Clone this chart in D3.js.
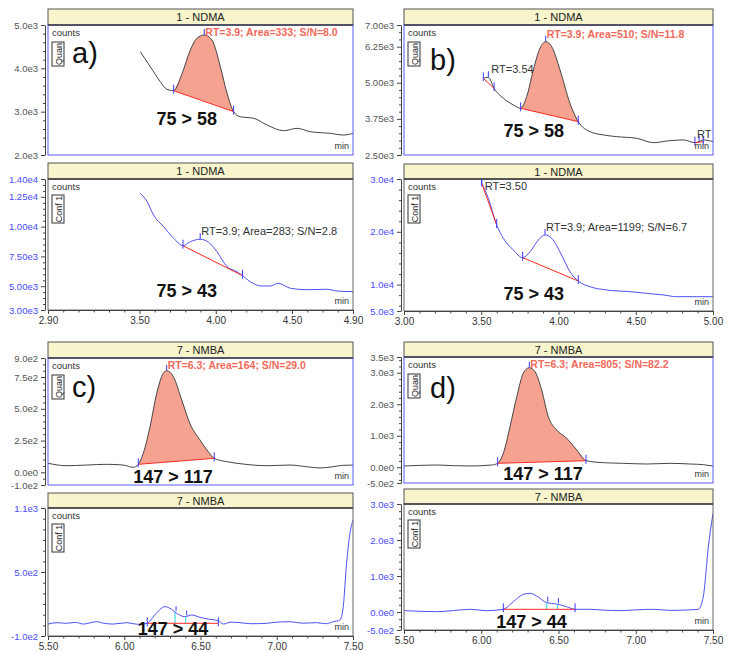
<!DOCTYPE html>
<html>
<head>
<meta charset="utf-8">
<script src="https://cdn.jsdelivr.net/npm/d3@7"></script>
<style>
  body { margin: 0; background: #fff; }
  svg text { font-family: "Liberation Sans", Arial, sans-serif; }
</style>
</head>
<body>
<svg id="chart" width="733" height="652"></svg>
<script>
// ---- a) NDMA, quan 75 > 58 ----
const timeAQ  = [3.505,3.571,3.636,3.68,3.724,3.78,3.833,3.876,3.925,3.975,4.03,4.074,4.117,4.16,4.25,4.336,4.445,4.533,4.62,4.75,4.838,4.90];
const countAQ = [4384,4038,3692,3516,3484,3885,4423,4692,4769,4654,4038,3423,3000,2884,2846,2692,2561,2615,2538,2500,2461,2500];
const peaksAQ = [{start:3.724, apex:3.925, end:4.117, base:[3484,3000], label:'RT=3.9; Area=333; S/N=8.0', fill:true}];
// ---- a) NDMA, conf 75 > 43 ----
const timeAC  = [3.505,3.55,3.592,3.658,3.724,3.785,3.833,3.898,3.953,4.008,4.074,4.139,4.176,4.226,4.30,4.357,4.41,4.49,4.597,4.73,4.795,4.90];
const countAC = [12800,12094,10977,9995,9021,8400,8735,8937,8685,7895,6636,6216,5880,5376,5015,5015,5240,4822,4706,4740,4595,4540];
const peaksAC = [{start:3.785, apex:3.898, end:4.176, base:[8400,5880], label:'RT=3.9; Area=283; S/N=2.8'}];
// ---- b) NDMA, quan 75 > 58 ----
const timeBQ  = [3.513,3.546,3.583,3.643,3.708,3.755,3.794,3.837,3.88,3.917,3.956,4.01,4.074,4.128,4.204,4.29,4.377,4.506,4.614,4.722,4.808,4.883,4.91,4.937,5.0];
const countBQ = [5155,5190,4809,4463,4232,4117,4519,5443,6194,6423,6249,5443,4291,3654,3308,3194,3135,3079,2927,2997,3021,2927,2960,3021,2962];
const peaksBQ = [
  {start:3.513, apex:3.546, end:3.583, base:[5155,4809], label:'RT=3.54', small:true},
  {start:3.755, apex:3.917, end:4.128, base:[4117,3654], label:'RT=3.9; Area=510; S/N=11.8', fill:true},
  {start:4.883, apex:4.91, end:4.937, base:[2927,2960], label:'RT', small:true, dx:-2}
];
// ---- b) NDMA, conf 75 > 43 ----
const timeBC  = [3.503,3.546,3.60,3.643,3.708,3.768,3.816,3.87,3.913,3.956,4.02,4.074,4.128,4.204,4.312,4.463,4.57,4.68,4.765,4.895,5.0];
const countBC = [29180,26345,21290,18770,16550,15100,16230,18450,19400,18770,15600,12440,10680,9600,8980,8660,8350,8030,7710,7710,7710];
const peaksBC = [
  {start:3.503, apex:3.503, end:3.60, base:[29180,21290], label:'RT=3.50', small:true},
  {start:3.768, apex:3.913, end:4.128, base:[15100,10680], label:'RT=3.9; Area=1199; S/N=6.7'}
];
// ---- c) NMBA, quan 147 > 117 ----
const timeCQ  = [5.5,5.62,5.754,5.885,5.994,6.06,6.092,6.125,6.169,6.213,6.256,6.278,6.322,6.377,6.43,6.497,6.551,6.59,6.672,6.78,6.934,7.087,7.196,7.284,7.37,7.436,7.5];
const countCQ = [71,52,57,63,57,39,63,150,359,622,780,800,753,569,386,254,162,110,84,65,52,57,44,34,44,55,57];
const peaksCQ = [{start:6.092, apex:6.278, end:6.59, base:[63,110], label:'RT=6.3; Area=164; S/N=29.0', fill:true}];
// ---- c) NMBA, conf 147 > 44 ----
const timeCC  = [5.5,5.56,5.62,5.68,5.731,5.819,5.87,5.928,6.016,6.06,6.103,6.151,6.2,6.267,6.3,6.344,6.398,6.442,6.497,6.562,6.617,6.65,6.70,6.759,6.83,6.934,7.0,7.087,7.17,7.262,7.32,7.371,7.415,7.436,7.458,7.48,7.5];
const countCC = [12,25,19,28,12,34,18,12,25,15,9,19,97,175,160,112,81,97,75,56,44,12,30,25,15,19,30,34,20,25,15,34,50,175,581,862,987];
const peaksCC = [{start:6.151, end:6.617, base:[19,19], splits:[6.333,6.403]}];
// ---- d) NMBA, quan 147 > 117 ----
const timeDQ  = [5.5,5.6,5.71,5.82,5.927,6.068,6.106,6.143,6.186,6.23,6.272,6.311,6.348,6.391,6.434,6.488,6.553,6.618,6.678,6.79,6.92,7.071,7.222,7.351,7.437,7.5];
const countDQ = [40,60,71,50,40,71,125,443,1287,2240,2983,3160,3033,2452,1605,1183,919,548,208,145,125,103,125,103,82,40];
const peaksDQ = [{start:6.106, apex:6.311, end:6.678, base:[125,208], label:'RT=6.3; Area=805; S/N=82.2', fill:true}];
// ---- d) NMBA, conf 147 > 44 ----
const timeDC  = [5.5,5.6,5.71,5.82,5.927,6.035,6.143,6.208,6.272,6.316,6.359,6.424,6.488,6.553,6.607,6.704,6.8,6.898,7.0,7.114,7.22,7.33,7.405,7.437,7.47,7.5];
const countDC = [37,20,9,40,75,37,75,287,491,519,444,258,222,147,75,75,50,37,60,75,45,56,75,425,1814,2741];
const peaksDC = [{start:6.143, end:6.607, base:[75,75], splits:[6.424,6.493]}];

// tick values
const yTicksAQ = [2000,3000,4000,5000];
const yTicksAC = [3000,5000,7500,10000,12500,14000];
const yTicksBQ = [2500,3750,5000,6250,7000];
const yTicksBC = [5000,10000,20000,30000];
const yTicksCQ = [-100,0,250,500,750,900];
const yTicksCC = [-100,500,1100];
const yTicksDQ = [-500,0,1000,2000,3000,3500];
const yTicksDC = [-500,0,1000,2000,3000];
const xTicksA = [2.9,3.5,4.0,4.5,4.9];
const xTicksB = [3.0,3.5,4.0,4.5,5.0];
const xTicksC = [5.5,6.0,6.5,7.0,7.5];

const panels = [
  {kind:'quan', left:48,  right:353, headTop:9,   top:25,  bottom:155, xDomain:[2.9,4.9], yTicks:yTicksAQ, yDigits:1, yMinor:200,
   title:'1 - NDMA', time:timeAQ, counts:countAQ, peaks:peaksAQ, letter:'a)', letterDx:24, letterDy:38, trans:'75 > 58', transT:3.81, transDy:100},
  {kind:'conf', left:48,  right:353, headTop:163, top:179, bottom:310, xDomain:[2.9,4.9], xTicks:xTicksA, yTicks:yTicksAC, yDigits:2, yMinor:500,
   title:'1 - NDMA', time:timeAC, counts:countAC, peaks:peaksAC, trans:'75 > 43', transT:3.81, transDy:118},
  {kind:'quan', left:404, right:713, headTop:9,   top:25,  bottom:155, xDomain:[3,5], yTicks:yTicksBQ, yDigits:2, yMinor:250,
   title:'1 - NDMA', time:timeBQ, counts:countBQ, peaks:peaksBQ, letter:'b)', letterDx:26, letterDy:45, trans:'75 > 58', transT:3.84, transDy:112},
  {kind:'conf', left:404, right:713, headTop:164, top:179, bottom:311, xDomain:[3,5], xTicks:xTicksB, yTicks:yTicksBC, yDigits:1, yMinor:2000,
   title:'1 - NDMA', time:timeBC, counts:countBC, peaks:peaksBC, trans:'75 > 43', transT:3.84, transDy:121},
  {kind:'quan', left:48,  right:353, headTop:342, top:358, bottom:485, xDomain:[5.5,7.5], yTicks:yTicksCQ, yDigits:1, yMinor:50,
   title:'7 - NMBA', time:timeCQ, counts:countCQ, peaks:peaksCQ, letter:'c)', letterDx:24, letterDy:39, trans:'147 > 117', transT:6.32, transDy:125},
  {kind:'conf', left:48,  right:353, headTop:493, top:508, bottom:636, xDomain:[5.5,7.5], xTicks:xTicksC, yTicks:yTicksCC, yDigits:1, yMinor:100,
   title:'7 - NMBA', time:timeCC, counts:countCC, peaks:peaksCC, trans:'147 > 44', transT:6.32, transDy:127},
  {kind:'quan', left:404, right:713, headTop:342, top:357, bottom:483, xDomain:[5.5,7.5], yTicks:yTicksDQ, yDigits:1, yMinor:200,
   title:'7 - NMBA', time:timeDQ, counts:countDQ, peaks:peaksDQ, letter:'d)', letterDx:26, letterDy:41, trans:'147 > 117', transT:6.40, transDy:123},
  {kind:'conf', left:404, right:713, headTop:489, top:504, bottom:630, xDomain:[5.5,7.5], xTicks:xTicksC, yTicks:yTicksDC, yDigits:1, yMinor:200,
   title:'7 - NMBA', time:timeDC, counts:countDC, peaks:peaksDC, trans:'147 > 44', transT:6.325, transDy:124}
];

const svg = d3.select('#chart');
const defs = svg.append('defs');

function valueAt(ts, vs, t) {
  const i = d3.bisectLeft(ts, t);
  if (i <= 0) return vs[0];
  if (i >= ts.length) return vs[vs.length - 1];
  const t0 = ts[i-1], t1 = ts[i];
  return vs[i-1] + (vs[i] - vs[i-1]) * (t - t0) / (t1 - t0);
}
function expFmt(d, digits) {
  return d.toExponential(digits).replace('e+', 'e');
}

panels.forEach((p, i) => drawPanel(p, i));

function drawPanel(p, i) {
  const quan = p.kind == 'quan';
  const yDomain = d3.extent(p.yTicks);
  const x = d3.scaleLinear().domain(p.xDomain).range([p.left, p.right]);
  const y = d3.scaleLinear().domain(yDomain).range([p.bottom, p.top]);
  const traceColor = quan ? '#454545' : '#4f4ff5';
  const g = svg.append('g');

  // header band
  g.append('rect')
    .attr('x', p.left).attr('y', p.headTop)
    .attr('width', p.right - p.left).attr('height', p.top - p.headTop)
    .attr('fill', '#f8f4cc').attr('stroke', '#555').attr('stroke-width', 1);
  g.append('text')
    .attr('x', (p.left + p.right) / 2).attr('y', p.headTop + 12)
    .attr('text-anchor', 'middle').attr('font-size', 11).attr('fill', '#222')
    .text(p.title);

  defs.append('clipPath').attr('id', 'clip' + i).append('rect')
    .attr('x', p.left).attr('y', p.top)
    .attr('width', p.right - p.left).attr('height', p.bottom - p.top);
  const plot = g.append('g').attr('clip-path', 'url(#clip' + i + ')');

  const series = p.time.map((t, k) => [t, p.counts[k]]);
  const line = d3.line().x(d => x(d[0])).y(d => y(d[1])).curve(d3.curveMonotoneX);

  // peak fills under the trace
  p.peaks.forEach(pk => {
    if (!pk.fill) return;
    const baseAt = t => pk.base[0] + (pk.base[1] - pk.base[0]) * (t - pk.start) / (pk.end - pk.start);
    const seg = series.filter(d => d[0] >= pk.start - 1e-9 && d[0] <= pk.end + 1e-9);
    const area = d3.area().x(d => x(d[0])).y0(d => y(baseAt(d[0]))).y1(d => y(d[1])).curve(d3.curveMonotoneX);
    plot.append('path').attr('d', area(seg)).attr('fill', '#f6a291');
  });

  plot.append('path').attr('d', line(series))
    .attr('fill', 'none').attr('stroke', traceColor).attr('stroke-width', 1);

  p.peaks.forEach(pk => {
    const baseAt = t => pk.base[0] + (pk.base[1] - pk.base[0]) * (t - pk.start) / (pk.end - pk.start);
    // split lines
    (pk.splits || []).forEach(t => {
      plot.append('line')
        .attr('x1', x(t)).attr('x2', x(t))
        .attr('y1', y(baseAt(t))).attr('y2', y(valueAt(p.time, p.counts, t)))
        .attr('stroke', '#22d3e6').attr('stroke-width', 1);
      plot.append('line')
        .attr('x1', x(t) + 1).attr('x2', x(t) + 1)
        .attr('y1', y(valueAt(p.time, p.counts, t)) - 6).attr('y2', y(valueAt(p.time, p.counts, t)) - 1)
        .attr('stroke', '#3a3aff').attr('stroke-width', 1);
    });
    plot.append('line')
      .attr('x1', x(pk.start)).attr('y1', y(pk.base[0]))
      .attr('x2', x(pk.end)).attr('y2', y(pk.base[1]))
      .attr('stroke', '#ff2a20').attr('stroke-width', 1);
    [[pk.start, pk.base[0]], [pk.end, pk.base[1]]].forEach(d => {
      plot.append('line')
        .attr('x1', x(d[0])).attr('x2', x(d[0]))
        .attr('y1', y(d[1]) - 6).attr('y2', y(d[1]) + 3)
        .attr('stroke', '#3a3aff').attr('stroke-width', 1);
    });
    if (pk.label) {
      const av = valueAt(p.time, p.counts, pk.apex);
      const ay = y(av);
      plot.append('line')
        .attr('x1', x(pk.apex)).attr('x2', x(pk.apex))
        .attr('y1', ay - 6).attr('y2', ay)
        .attr('stroke', '#3a3aff').attr('stroke-width', 1);
      const bold = quan && !pk.small;
      plot.append('text')
        .attr('x', x(pk.apex) + (pk.dx != null ? pk.dx : (pk.small ? 3 : 1)))
        .attr('y', Math.max(ay - 4, p.top + 10.5))
        .attr('font-size', bold ? 10.5 : 11)
        .attr('font-weight', bold ? 'bold' : 'normal')
        .attr('fill', bold ? '#f2695a' : '#333')
        .text(pk.label);
    }
  });

  // in-plot annotations
  g.append('text').attr('x', p.left + 4).attr('y', p.top + 11)
    .attr('font-size', 9.5).attr('fill', '#333').text('counts');
  const boxH = quan ? 24 : 28, boxY = p.top + (quan ? 17 : 16);
  g.append('rect').attr('x', p.left + 4).attr('y', boxY).attr('width', 12).attr('height', boxH)
    .attr('fill', 'none').attr('stroke', '#333').attr('stroke-width', 1);
  g.append('text')
    .attr('transform', `translate(${p.left + 13.5},${boxY + boxH / 2}) rotate(-90)`)
    .attr('text-anchor', 'middle').attr('font-size', 9).attr('fill', '#222')
    .text(quan ? 'Quan' : 'Conf 1');
  if (p.letter) {
    g.append('text').attr('x', p.left + p.letterDx).attr('y', p.top + p.letterDy)
      .attr('font-size', 29).attr('fill', '#111').text(p.letter);
  }
  g.append('text').attr('x', x(p.transT)).attr('y', p.top + p.transDy)
    .attr('text-anchor', 'middle').attr('font-size', 18).attr('font-weight', 'bold')
    .attr('fill', '#111').text(p.trans);
  g.append('text').attr('x', p.right - 4).attr('y', p.bottom - 6)
    .attr('text-anchor', 'end').attr('font-size', 9).attr('fill', '#333').text('min');

  // plot frame
  g.append('rect')
    .attr('x', p.left).attr('y', p.top)
    .attr('width', p.right - p.left).attr('height', p.bottom - p.top)
    .attr('fill', 'none').attr('stroke', quan ? '#5a5aff' : '#666').attr('stroke-width', 1);
  g.append('line').attr('x1', p.left).attr('x2', p.right).attr('y1', p.top).attr('y2', p.top)
    .attr('stroke', '#444').attr('stroke-width', 1.5);

  // y axis
  const ax = p.left - 3;
  const yAxis = g.append('g').attr('transform', `translate(${ax},0)`)
    .call(d3.axisLeft(y).tickValues(p.yTicks).tickSize(4).tickSizeOuter(0)
      .tickFormat(d => expFmt(d, p.yDigits)));
  const step = p.yMinor;
  const minors = d3.range(Math.ceil(yDomain[0] / step), Math.floor(yDomain[1] / step) + 1)
    .map(k => k * step).filter(v => p.yTicks.indexOf(v) < 0);
  g.append('g').attr('transform', `translate(${ax},0)`)
    .call(d3.axisLeft(y).tickValues(minors).tickSize(2).tickFormat(''))
    .call(s => s.select('.domain').remove());
  styleAxis(yAxis, quan ? '#555' : '#4a4aff', 9.5);

  // x axis on the confirming traces only
  if (p.xTicks) {
    const xAxis = g.append('g').attr('transform', `translate(0,${p.bottom})`)
      .call(d3.axisBottom(x).tickValues(p.xTicks).tickSize(4).tickSizeOuter(0)
        .tickFormat(d3.format('.2f')));
    const xMinor = d3.range(Math.round(p.xDomain[0] * 10), Math.round(p.xDomain[1] * 10) + 1)
      .map(k => k / 10).filter(v => !p.xTicks.some(t => Math.abs(t - v) < 1e-6));
    g.append('g').attr('transform', `translate(0,${p.bottom})`)
      .call(d3.axisBottom(x).tickValues(xMinor).tickSize(2.5).tickFormat(''))
      .call(s => s.select('.domain').remove());
    styleAxis(xAxis, '#333', 10);
  }
}

function styleAxis(sel, textColor, size) {
  sel.select('.domain').attr('stroke', '#444');
  sel.selectAll('.tick line').attr('stroke', '#444');
  sel.selectAll('.tick text').attr('fill', textColor).attr('font-size', size)
    .attr('font-family', '"Liberation Sans", Arial, sans-serif');
}
d3.selectAll('g.tick line').attr('stroke', '#444');
</script>
</body>
</html>
